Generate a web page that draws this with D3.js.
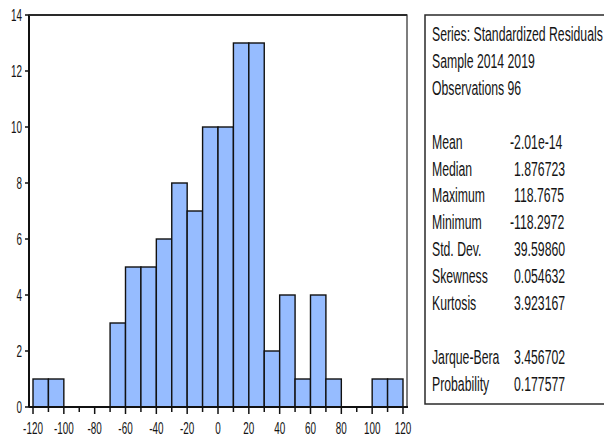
<!DOCTYPE html>
<html>
<head>
<meta charset="utf-8">
<script src="https://cdn.jsdelivr.net/npm/d3@7"></script>
<style>
  html, body { margin: 0; padding: 0; background: #fff; }
  svg { display: block; }
  text { font-family: "Liberation Sans", Arial, sans-serif; fill: #141414; }
</style>
</head>
<body>
<svg id="chart" width="604" height="439"></svg>
<script>
// Histogram of standardized residuals, bins of width 10
const binStarts = [-120, -110, -100, -90, -80, -70, -60, -50, -40, -30, -20, -10,
                   0, 10, 20, 30, 40, 50, 60, 70, 80, 90, 100, 110];
const counts    = [1, 1, 0, 0, 0, 3, 5, 5, 6, 8, 7, 10,
                   10, 13, 13, 2, 4, 1, 4, 1, 0, 0, 1, 1];
const binWidth = 10;

const yTicks = [0, 2, 4, 6, 8, 10, 12, 14];
const xTicks = d3.range(-120, 121, 10);
const xTickLabels = [-120, -100, -80, -60, -40, -20, 0, 20, 40, 60, 80, 100, 120];

// Summary statistics panel
const headerLines = ["Series: Standardized Residuals", "Sample 2014 2019", "Observations 96"];
const statNames  = ["Mean", "Median", "Maximum", "Minimum", "Std. Dev.", "Skewness", "Kurtosis"];
const statValues = ["-2.01e-14", "1.876723", "118.7675", "-118.2972", "39.59860", "0.054632", "3.923167"];
const testNames  = ["Jarque-Bera", "Probability"];
const testValues = ["3.456702", "0.177577"];

const svg = d3.select("#chart");

const plot = { left: 29, right: 407, top: 15, bottom: 407 };

const x = d3.scaleLinear().domain([-122.6, 122.6]).range([plot.left, plot.right]);
const y = d3.scaleLinear().domain([0, 14]).range([plot.bottom, plot.top]);

// plot frame
svg.append("rect")
  .attr("x", plot.left).attr("y", plot.top)
  .attr("width", plot.right - plot.left).attr("height", plot.bottom - plot.top)
  .attr("fill", "#fff").attr("stroke", "#3a3a3a").attr("stroke-width", 1.3);

// bars
const bins = binStarts.map((b, i) => ({ x0: b, x1: b + binWidth, n: counts[i] }))
  .filter(d => d.n > 0);

svg.append("g").selectAll("rect")
  .data(bins).join("rect")
  .attr("x", d => x(d.x0))
  .attr("y", d => y(d.n))
  .attr("width", d => x(d.x1) - x(d.x0))
  .attr("height", d => y(0) - y(d.n))
  .attr("fill", "#96bcff")
  .attr("stroke", "#111")
  .attr("stroke-width", 1.4);

// heavier left and top frame edges
svg.append("line").attr("x1", plot.left).attr("x2", plot.left)
  .attr("y1", plot.top).attr("y2", plot.bottom)
  .attr("stroke", "#111").attr("stroke-width", 2);
svg.append("line").attr("x1", plot.left).attr("x2", plot.right)
  .attr("y1", plot.top).attr("y2", plot.top)
  .attr("stroke", "#2a2a2a").attr("stroke-width", 2);
svg.append("line").attr("x1", plot.left).attr("x2", plot.right + 1)
  .attr("y1", plot.bottom).attr("y2", plot.bottom)
  .attr("stroke", "#111").attr("stroke-width", 1.8);

// y axis ticks + labels
const tickSx = 0.6;
const yAxis = svg.append("g");
yAxis.selectAll("line").data(yTicks).join("line")
  .attr("x1", plot.left - 4).attr("x2", plot.left)
  .attr("y1", d => y(d)).attr("y2", d => y(d))
  .attr("stroke", "#111").attr("stroke-width", 1.5);
yAxis.selectAll("text").data(yTicks).join("text")
  .attr("transform", d => `translate(${plot.left - 7},${y(d)}) scale(${tickSx},1)`)
  .attr("dy", "0.36em")
  .attr("text-anchor", "end")
  .attr("font-size", 16.5)
  .text(d => d);

// x axis ticks + labels
const xAxis = svg.append("g");
xAxis.selectAll("line").data(xTicks).join("line")
  .attr("x1", d => x(d)).attr("x2", d => x(d))
  .attr("y1", plot.bottom).attr("y2", d => plot.bottom + (d % 20 === 0 ? 7 : 5))
  .attr("stroke", "#111").attr("stroke-width", 1.5);
xAxis.selectAll("text").data(xTickLabels).join("text")
  .attr("transform", d => `translate(${x(d)},434) scale(${tickSx},1)`)
  .attr("text-anchor", "middle")
  .attr("font-size", 16.5)
  .text(d => d);

// statistics box
const box = { left: 425, top: 15, bottom: 404 };
svg.append("rect")
  .attr("x", box.left).attr("y", box.top)
  .attr("width", 200).attr("height", box.bottom - box.top)
  .attr("fill", "#fff").attr("stroke", "#2a2a2a").attr("stroke-width", 1.5);

const fs = 19.5;
const lineH = 26.9;
const firstBase = 41;
const labelX = 432;

const stats = svg.append("g");
// measure header to set the horizontal compression of the panel text
const probe = stats.append("text").attr("font-size", fs).text(headerLines[0]);
const sx = 171 / probe.node().getComputedTextLength();
probe.remove();

function put(str, px, lineIdx) {
  stats.append("text")
    .attr("transform", `translate(${px},${firstBase + lineIdx * lineH}) scale(${sx},1)`)
    .attr("font-size", fs)
    .text(str);
}
function valueX(v) { return v.startsWith("-") ? 510 : 514; }

headerLines.forEach((t, i) => put(t, labelX, i));
statNames.forEach((t, i) => {
  put(t, labelX, 4 + i);
  put(statValues[i], valueX(statValues[i]), 4 + i);
});
testNames.forEach((t, i) => {
  put(t, labelX, 12 + i);
  put(testValues[i], valueX(testValues[i]), 12 + i);
});
</script>
</body>
</html>
